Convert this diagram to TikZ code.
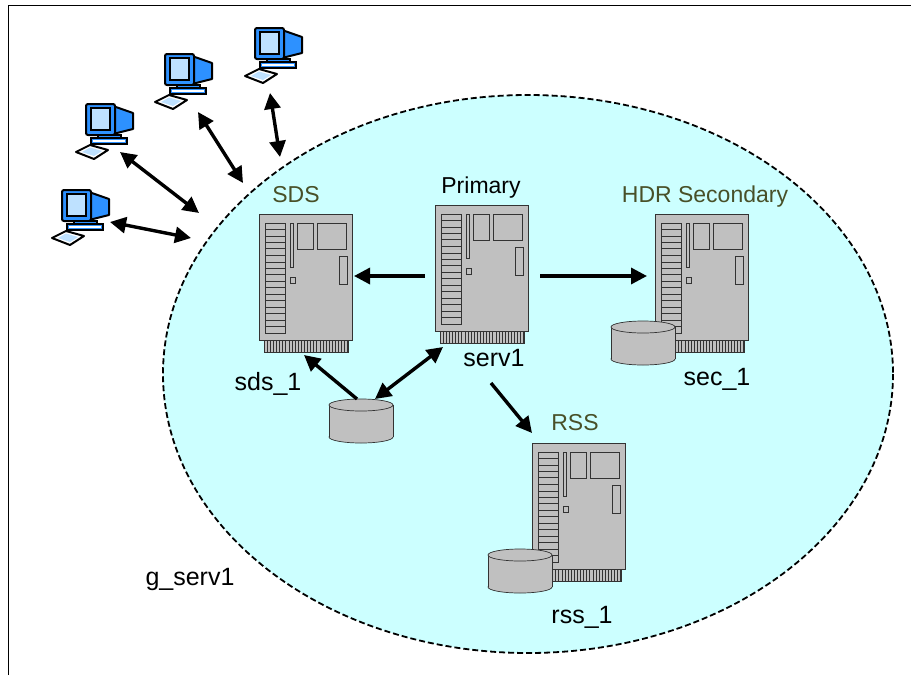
\documentclass[tikz,border=0pt]{standalone}
\usepackage{fontspec}
\setmainfont{Liberation Sans}
\usetikzlibrary{arrows.meta}

\definecolor{poolcyan}{RGB}{204,255,255}
\definecolor{rackgray}{RGB}{192,192,192}
\definecolor{rolegreen}{RGB}{72,80,40}
\definecolor{pcblue}{RGB}{45,145,255}
\definecolor{pcscreen}{RGB}{190,225,255}

\tikzset{
  link/.style={line width=3.4pt, {Triangle[length=16pt,width=16pt]}-{Triangle[length=16pt,width=16pt]}},
  onelink/.style={line width=3.4pt, -{Triangle[length=16pt,width=16pt]}},
  role/.style={font=\fontsize{23}{27}\selectfont, text=rolegreen, anchor=base, inner sep=0pt},
  hostname/.style={font=\fontsize{25}{30}\selectfont, anchor=base, inner sep=0pt},
  part/.style={draw=black!80, line width=0.7pt},
  % rack server, origin at the top-left corner of the chassis
  server/.pic={
    \filldraw[part, fill=rackgray] (0,0) rectangle (93,126);
    \filldraw[part, fill=rackgray] (5,126) rectangle (89,138);
    \foreach \i in {1,...,27} \draw[part, line width=0.5pt] ({5+3.1*\i},126) -- ({5+3.1*\i},138);
    \draw[part] (6,9) rectangle (26,119);
    \foreach \j in {1,...,16} {
      \pgfmathsetmacro{\slatw}{mod(\j,4)==0 ? 1.1 : 0.6}
      \draw[part, line width=\slatw pt] (6,{9+\j*110/17}) -- (26,{9+\j*110/17});
    }
    \draw[part] (31,9) rectangle (34,53);
    \draw[part] (31,63) rectangle (36,69);
    \draw[part] (38,9) rectangle (54,35);
    \draw[part] (58,9) rectangle (87,35);
    \draw[part] (80,42) rectangle (88,70);
  },
  % disk cylinder, origin at the centre of the top face
  disk/.pic={
    \filldraw[part, fill=rackgray] (0,32) ellipse (32 and 6);
    \fill[rackgray] (-32,0) rectangle (32,32);
    \draw[part] (-32,0) -- (-32,32) (32,0) -- (32,32);
    \filldraw[part, fill=rackgray] (0,0) ellipse (32 and 6);
  },
  % desktop workstation, origin at the top-left corner of the monitor
  pc/.pic={
    \filldraw[fill=pcblue, line width=2pt, line join=round] (27,2) -- (47,9) -- (47,25) -- (27,30) -- cycle;
    \filldraw[fill=pcblue, line width=2pt, rounded corners=2pt] (0,0) rectangle (29,31);
    \filldraw[fill=pcscreen, line width=1.1pt] (5,4) rectangle (24,26);
    \filldraw[fill=pcblue, line width=2pt] (12,31) rectangle (35,34);
    \filldraw[fill=pcblue, line width=2pt] (5,34) rectangle (41,40);
    \draw[white, line width=1.2pt] (7,37) -- (39,37);
    \filldraw[fill=white, line width=2pt, line join=round] (-10,48) -- (4,41) -- (22,46) -- (8,55) -- cycle;
    \fill[pcscreen] (-4,48) -- (4,43.5) -- (16,47) -- (8,52) -- cycle;
  }
}

\begin{document}
\begin{tikzpicture}[x=1pt, y=-1pt]
\useasboundingbox (0,0) rectangle (915,675);

% page frame
\draw[line width=1pt] (8,675) -- (8,5) -- (911,5);

% server group
\filldraw[fill=poolcyan, line width=1.8pt, dash pattern=on 6pt off 3pt] (528,374) ellipse (365 and 279);

% workstations
\pic at (62,190) {pc};
\pic at (86,104) {pc};
\pic at (165,54) {pc};
\pic at (255,28) {pc};

% servers and disks
\pic at (259,214) {server};
\pic at (435,205) {server};
\pic at (655,214) {server};
\pic at (532,443) {server};
\pic at (361,405) {disk};
\pic at (643,327) {disk};
\pic at (520,555) {disk};

% labels
\node[role] (lsds) at (296,202) {SDS};
\node[hostname, font=\fontsize{23}{27}\selectfont] (lprim) at (481,193) {Primary};
\node[role] (lhdr) at (705,202) {HDR Secondary};
\node[role] (lrss) at (575,430) {RSS};
\node[hostname] (nsds) at (268,390) {sds\_1};
\node[hostname] (nserv) at (494,366) {serv1};
\node[hostname] (nsec) at (717,385) {sec\_1};
\node[hostname] (nrss) at (582,623) {rss\_1};
\node[hostname] (ngrp) at (190,585) {g\_serv1};

% connector end points
\coordinate (pc1) at (110,222);  \coordinate (edge1) at (191,238);
\coordinate (pc2) at (120,152);  \coordinate (edge2) at (199,213);
\coordinate (pc3) at (198,112);  \coordinate (edge3) at (243,183);
\coordinate (pc4) at (270,93);   \coordinate (edge4) at (280,157);
\coordinate (primW) at (425,276); \coordinate (sdsE) at (354,276);
\coordinate (primE) at (540,276); \coordinate (hdrW) at (647,276);
\coordinate (diskL) at (357,399); \coordinate (sdsS) at (304,355);
\coordinate (diskR) at (375,399); \coordinate (primS) at (443,347);
\coordinate (primB) at (491,383); \coordinate (rssN) at (532,433);

% connectors
\draw[link] (pc1) -- (edge1);
\draw[link] (pc2) -- (edge2);
\draw[link] (pc3) -- (edge3);
\draw[link] (pc4) -- (edge4);
\draw[onelink] (primW) -- (sdsE);
\draw[onelink] (primE) -- (hdrW);
\draw[onelink] (diskL) -- (sdsS);
\draw[link] (diskR) -- (primS);
\draw[onelink] (primB) -- (rssN);
\end{tikzpicture}
\end{document}
